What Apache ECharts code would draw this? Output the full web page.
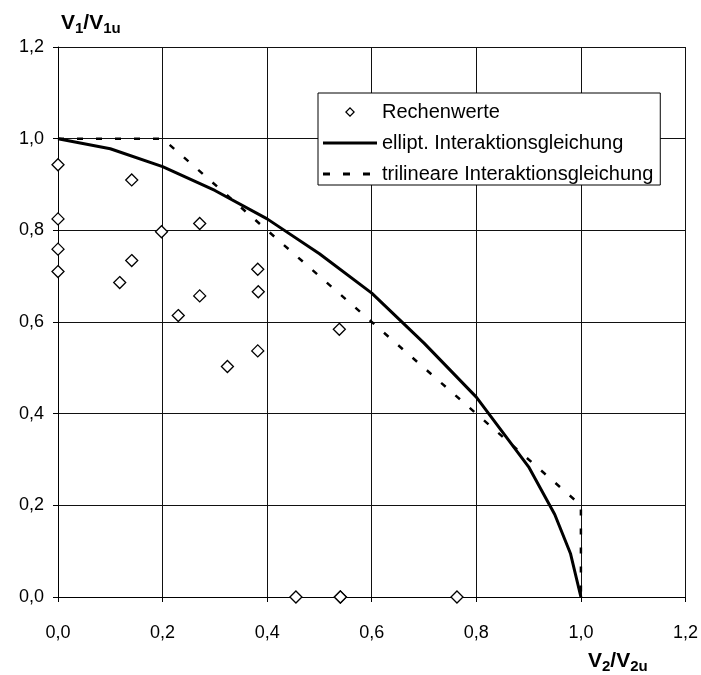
<!DOCTYPE html>
<html>
<head>
<meta charset="utf-8">
<script src="https://cdn.jsdelivr.net/npm/echarts@6/dist/echarts.min.js"></script>
<style>
html,body{margin:0;padding:0;background:#fff;}
#chart{width:701px;height:675px;}
</style>
</head>
<body>
<div id="chart"></div>
<script>
// ---- data ----
var seriesNames = ['Rechenwerte', 'ellipt. Interaktionsgleichung', 'trilineare Interaktionsgleichung'];
var rechenwerteX = [0.000, 0.141, 0.000, 0.271, 0.198, 0.000, 0.141, 0.000, 0.382, 0.118, 0.383, 0.271, 0.230, 0.538, 0.382, 0.324, 0.455, 0.540, 0.540, 0.763];
var rechenwerteY = [0.943, 0.910, 0.825, 0.815, 0.797, 0.759, 0.734, 0.710, 0.715, 0.686, 0.666, 0.657, 0.614, 0.584, 0.537, 0.503, 0.000, 0.000, 0.000, 0.000];
var ellipX = [0.0, 0.1, 0.2, 0.3, 0.4, 0.5, 0.6, 0.7, 0.8, 0.9, 0.95, 0.98, 1.0];
var ellipY = [1.000, 0.978, 0.939, 0.887, 0.825, 0.749, 0.663, 0.554, 0.436, 0.284, 0.180, 0.095, 0.000];
var trilinX = [0.0, 0.2, 1.0, 1.0];
var trilinY = [1.0, 1.0, 0.2, 0.0];
var xTickLabels = ['0,0', '0,2', '0,4', '0,6', '0,8', '1,0', '1,2'];
var yTickLabels = ['0,0', '0,2', '0,4', '0,6', '0,8', '1,0', '1,2'];

function zip(xs, ys) { return xs.map(function (x, i) { return [x, ys[i]]; }); }
function tickFmt(labels) {
  return function (v) { var i = Math.round(v / 0.2); return labels[i] !== undefined ? labels[i] : ''; };
}

// legend icons (54 x 14 box; zero-length subpaths fix the bounding box)
var BOX = 'M0,0L0,0Z M54,14L54,14Z ';
var iconDiamond = 'path://' + BOX + 'M27,2L32,7L27,12L22,7Z M27,3.8L23.8,7L27,10.2L30.2,7Z';
var iconSolid = 'path://' + BOX + 'M0,5.5L54,5.5L54,8.5L0,8.5Z';
var iconDashed = 'path://' + BOX + 'M0,5.5L7,5.5L7,8.5L0,8.5Z M20,5.5L27,5.5L27,8.5L20,8.5Z M40,5.5L47,5.5L47,8.5L40,8.5Z';

var FONT = '"Liberation Sans", Arial, sans-serif';
var chart = echarts.init(document.getElementById('chart'), null, { renderer: 'canvas' });
var richTitle = {
  b: { fontFamily: FONT, fontWeight: 'bold', fontSize: 21, color: '#000', lineHeight: 26, verticalAlign: 'middle' },
  s: { fontFamily: FONT, fontWeight: 'bold', fontSize: 15, color: '#000', lineHeight: 15, verticalAlign: 'bottom' }
};
var axisCommon = {
  type: 'value', min: 0, max: 1.2, interval: 0.2,
  axisLine: { show: true, onZero: false, lineStyle: { color: '#000', width: 1 } },
  axisTick: { show: true, inside: false, length: 5, lineStyle: { color: '#000', width: 1 } },
  splitLine: { show: true, lineStyle: { color: '#111', width: 1 } },
  axisLabel: { color: '#000', fontFamily: FONT, fontSize: 18 }
};
chart.setOption({
  backgroundColor: '#fff',
  animation: false,
  title: [
    { text: '{b|V}{s|1}{b|/V}{s|1u}', left: 61, top: 10, padding: 0, textStyle: { rich: richTitle } },
    { text: '{b|V}{s|2}{b|/V}{s|2u}', left: 588, top: 648, padding: 0, textStyle: { rich: richTitle } }
  ],
  grid: { left: 58, right: 15, top: 47, bottom: 78, containLabel: false },
  xAxis: Object.assign({}, axisCommon, {
    axisLabel: Object.assign({}, axisCommon.axisLabel, { margin: 27, formatter: tickFmt(xTickLabels) })
  }),
  yAxis: Object.assign({}, axisCommon, {
    axisLabel: Object.assign({}, axisCommon.axisLabel, { margin: 14, formatter: tickFmt(yTickLabels) })
  }),
  legend: {
    orient: 'vertical', left: 318, top: 93,
    padding: [9, 7, 1, 5],
    itemWidth: 54, itemHeight: 14, itemGap: 11,
    backgroundColor: '#fff', borderColor: '#000', borderWidth: 1,
    textStyle: { fontFamily: FONT, fontSize: 20, color: '#000', lineHeight: 20 },
    selectedMode: false,
    data: [
      { name: seriesNames[0], icon: iconDiamond, itemStyle: { color: '#000', borderWidth: 0 } },
      { name: seriesNames[1], icon: iconSolid, itemStyle: { color: '#000', borderWidth: 0 } },
      { name: seriesNames[2], icon: iconDashed, itemStyle: { color: '#000', borderWidth: 0 } }
    ]
  },
  series: [
    {
      name: seriesNames[1], type: 'line', data: zip(ellipX, ellipY),
      symbol: 'none', lineStyle: { color: '#000', width: 3 }, itemStyle: { color: '#000' }, z: 3
    },
    {
      name: seriesNames[2], type: 'line', data: zip(trilinX, trilinY),
      symbol: 'none', lineStyle: { color: '#000', width: 2.5, type: [6, 13] }, itemStyle: { color: '#000' }, z: 3
    },
    {
      name: seriesNames[0], type: 'scatter', data: zip(rechenwerteX, rechenwerteY),
      symbol: 'diamond', symbolSize: 12,
      itemStyle: { color: '#fff', borderColor: '#000', borderWidth: 1.3, opacity: 1 }, z: 4
    }
  ]
});
</script>
</body>
</html>
